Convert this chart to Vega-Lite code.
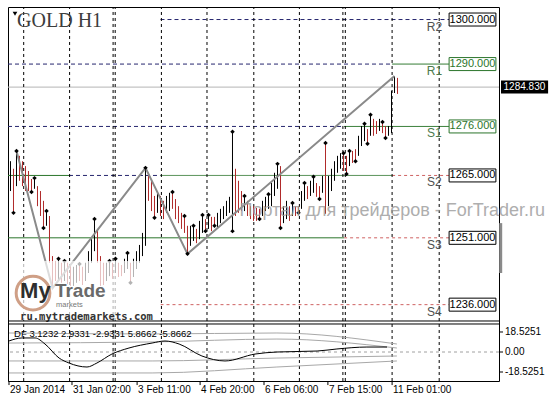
{
"$schema": "https://vega.github.io/schema/vega-lite/v6.json",
"padding": {"left": 6, "top": 6, "right": 4, "bottom": 20},
"background": "#ffffff",
"width": 491, "height": 374,
"config": {
 "view": {"stroke": "#000000", "strokeWidth": 1},
 "axis": {"labelFont": "Liberation Sans", "labelFontSize": 10, "labelColor": "#000000", "tickColor": "#000000", "grid": false},
 "text": {"font": "Liberation Sans"}
},
"datasets": {
 "bars": [
  {"n":0,"h":1268.2,"l":1261.5,"d":"u"},
  {"n":1,"h":1266.5,"l":1256.6,"d":"d","f":"l"},
  {"n":2,"h":1270.5,"l":1262.6,"d":"u","f":"h"},
  {"n":3,"h":1269.4,"l":1263.8,"d":"d"},
  {"n":4,"h":1268.2,"l":1262.6,"d":"d"},
  {"n":5,"h":1267.1,"l":1261.5,"d":"d"},
  {"n":6,"h":1266.0,"l":1261.5,"d":"d"},
  {"n":7,"h":1264.2,"l":1261.3,"d":"d","f":"l"},
  {"n":8,"h":1264.4,"l":1262.0,"d":"u","f":"h"},
  {"n":9,"h":1262.6,"l":1258.1,"d":"d"},
  {"n":10,"h":1261.5,"l":1255.9,"d":"d"},
  {"n":11,"h":1259.3,"l":1253.2,"d":"d","f":"l"},
  {"n":12,"h":1257.0,"l":1253.7,"d":"u","f":"h"},
  {"n":13,"h":1255.9,"l":1245.4,"d":"d"},
  {"n":14,"h":1246.9,"l":1239.7,"d":"d"},
  {"n":15,"h":1245.8,"l":1241.3,"d":"d"},
  {"n":16,"h":1246.3,"l":1241.3,"d":"u","f":"h"},
  {"n":17,"h":1245.4,"l":1240.9,"d":"d"},
  {"n":18,"h":1245.8,"l":1241.3,"d":"u","f":"h"},
  {"n":19,"h":1245.4,"l":1240.6,"d":"d"},
  {"n":20,"h":1244.7,"l":1240.2,"d":"d"},
  {"n":21,"h":1244.5,"l":1240.2,"d":"u"},
  {"n":22,"h":1244.9,"l":1240.9,"d":"u"},
  {"n":23,"h":1245.1,"l":1241.3,"d":"d","f":"h"},
  {"n":24,"h":1244.5,"l":1240.4,"d":"d"},
  {"n":25,"h":1245.4,"l":1241.3,"d":"u"},
  {"n":26,"h":1248.0,"l":1243.1,"d":"u"},
  {"n":27,"h":1250.7,"l":1245.4,"d":"u"},
  {"n":28,"h":1255.2,"l":1248.0,"d":"u","f":"h"},
  {"n":29,"h":1253.0,"l":1245.4,"d":"d"},
  {"n":30,"h":1246.9,"l":1240.2,"d":"d"},
  {"n":31,"h":1245.4,"l":1240.4,"d":"d"},
  {"n":32,"h":1245.4,"l":1241.3,"d":"u"},
  {"n":33,"h":1245.8,"l":1242.4,"d":"u","f":"h"},
  {"n":34,"h":1245.4,"l":1241.8,"d":"d"},
  {"n":35,"h":1246.3,"l":1243.1,"d":"u","f":"h"},
  {"n":36,"h":1245.4,"l":1242.2,"d":"d"},
  {"n":37,"h":1244.9,"l":1242.4,"d":"d"},
  {"n":38,"h":1246.3,"l":1243.1,"d":"u"},
  {"n":39,"h":1247.6,"l":1244.0,"d":"u","f":"h"},
  {"n":40,"h":1245.4,"l":1240.9,"d":"d","f":"l"},
  {"n":41,"h":1246.3,"l":1242.2,"d":"u"},
  {"n":42,"h":1248.0,"l":1244.0,"d":"u"},
  {"n":43,"h":1249.4,"l":1245.4,"d":"u"},
  {"n":44,"h":1252.1,"l":1246.9,"d":"u"},
  {"n":45,"h":1266.7,"l":1249.2,"d":"u","f":"h"},
  {"n":46,"h":1265.6,"l":1259.3,"d":"d"},
  {"n":47,"h":1263.8,"l":1257.0,"d":"d"},
  {"n":48,"h":1260.4,"l":1255.5,"d":"d","f":"l"},
  {"n":49,"h":1261.5,"l":1256.6,"d":"u"},
  {"n":50,"h":1260.4,"l":1255.9,"d":"d"},
  {"n":51,"h":1259.3,"l":1255.2,"d":"d"},
  {"n":52,"h":1260.4,"l":1256.6,"d":"u"},
  {"n":53,"h":1261.1,"l":1257.0,"d":"u"},
  {"n":54,"h":1261.3,"l":1257.5,"d":"d","f":"h"},
  {"n":55,"h":1259.7,"l":1255.2,"d":"d"},
  {"n":56,"h":1258.1,"l":1254.3,"d":"d"},
  {"n":57,"h":1256.6,"l":1253.0,"d":"d"},
  {"n":58,"h":1255.9,"l":1252.1,"d":"d","f":"h"},
  {"n":59,"h":1253.7,"l":1247.4,"d":"d","f":"l"},
  {"n":60,"h":1253.7,"l":1249.2,"d":"u"},
  {"n":61,"h":1253.7,"l":1250.3,"d":"u","f":"h"},
  {"n":62,"h":1253.0,"l":1249.8,"d":"d"},
  {"n":63,"h":1254.8,"l":1250.7,"d":"u"},
  {"n":64,"h":1256.1,"l":1252.1,"d":"u","f":"h"},
  {"n":65,"h":1255.2,"l":1252.5,"d":"d","f":"l"},
  {"n":66,"h":1256.1,"l":1253.0,"d":"u","f":"h"},
  {"n":67,"h":1255.7,"l":1252.5,"d":"d"},
  {"n":68,"h":1255.7,"l":1253.7,"d":"d","f":"l"},
  {"n":69,"h":1256.6,"l":1253.4,"d":"u"},
  {"n":70,"h":1257.5,"l":1254.3,"d":"u"},
  {"n":71,"h":1258.1,"l":1255.2,"d":"u"},
  {"n":72,"h":1259.3,"l":1255.9,"d":"u"},
  {"n":73,"h":1260.2,"l":1256.6,"d":"u"},
  {"n":74,"h":1274.8,"l":1252.5,"d":"u","f":"hl"},
  {"n":75,"h":1266.5,"l":1255.9,"d":"d"},
  {"n":76,"h":1263.8,"l":1256.6,"d":"d"},
  {"n":77,"h":1261.5,"l":1257.0,"d":"d"},
  {"n":78,"h":1260.4,"l":1257.0,"d":"u","f":"h"},
  {"n":79,"h":1259.3,"l":1255.9,"d":"d"},
  {"n":80,"h":1258.1,"l":1255.2,"d":"d"},
  {"n":81,"h":1258.1,"l":1254.8,"d":"d"},
  {"n":82,"h":1257.7,"l":1254.8,"d":"d"},
  {"n":83,"h":1257.5,"l":1255.2,"d":"d","f":"l"},
  {"n":84,"h":1259.3,"l":1255.9,"d":"u"},
  {"n":85,"h":1260.2,"l":1257.0,"d":"u"},
  {"n":86,"h":1260.8,"l":1257.5,"d":"u","f":"h"},
  {"n":87,"h":1263.3,"l":1258.1,"d":"u"},
  {"n":88,"h":1265.6,"l":1260.4,"d":"u"},
  {"n":89,"h":1267.6,"l":1262.0,"d":"u","f":"h"},
  {"n":90,"h":1267.1,"l":1253.2,"d":"d","f":"l"},
  {"n":91,"h":1258.1,"l":1254.3,"d":"u"},
  {"n":92,"h":1259.3,"l":1255.2,"d":"u"},
  {"n":93,"h":1258.1,"l":1254.8,"d":"d"},
  {"n":94,"h":1258.8,"l":1255.9,"d":"u","f":"h"},
  {"n":95,"h":1258.1,"l":1255.9,"d":"d"},
  {"n":96,"h":1258.1,"l":1256.6,"d":"d","f":"l"},
  {"n":97,"h":1261.5,"l":1257.5,"d":"u"},
  {"n":98,"h":1263.3,"l":1259.3,"d":"u","f":"h"},
  {"n":99,"h":1262.6,"l":1259.7,"d":"d"},
  {"n":100,"h":1263.8,"l":1260.4,"d":"u"},
  {"n":101,"h":1264.7,"l":1261.1,"d":"u","f":"h"},
  {"n":102,"h":1263.3,"l":1260.2,"d":"d"},
  {"n":103,"h":1262.6,"l":1259.7,"d":"d","f":"l"},
  {"n":104,"h":1264.9,"l":1261.1,"d":"u"},
  {"n":105,"h":1272.3,"l":1256.4,"d":"d","f":"h"},
  {"n":106,"h":1264.9,"l":1258.1,"d":"u"},
  {"n":107,"h":1266.5,"l":1261.5,"d":"u"},
  {"n":108,"h":1268.2,"l":1263.8,"d":"u"},
  {"n":109,"h":1269.4,"l":1265.6,"d":"u"},
  {"n":110,"h":1270.0,"l":1266.5,"d":"u"},
  {"n":111,"h":1270.0,"l":1266.0,"d":"d","f":"h"},
  {"n":112,"h":1269.4,"l":1265.3,"d":"d","f":"l"},
  {"n":113,"h":1270.5,"l":1267.1,"d":"u","f":"h"},
  {"n":114,"h":1270.5,"l":1267.8,"d":"d"},
  {"n":115,"h":1270.9,"l":1268.2,"d":"d","f":"l"},
  {"n":116,"h":1273.9,"l":1269.4,"d":"u"},
  {"n":117,"h":1276.1,"l":1271.6,"d":"u"},
  {"n":118,"h":1276.6,"l":1272.7,"d":"u","f":"h"},
  {"n":119,"h":1275.4,"l":1272.1,"d":"d","f":"l"},
  {"n":120,"h":1278.6,"l":1273.9,"d":"u","f":"h"},
  {"n":121,"h":1277.7,"l":1273.9,"d":"d"},
  {"n":122,"h":1277.2,"l":1274.3,"d":"d"},
  {"n":123,"h":1277.7,"l":1275.0,"d":"u"},
  {"n":124,"h":1277.0,"l":1274.5,"d":"d","f":"h"},
  {"n":125,"h":1276.1,"l":1273.4,"d":"d","f":"l"},
  {"n":126,"h":1276.1,"l":1273.9,"d":"u"},
  {"n":127,"h":1284.0,"l":1274.5,"d":"u"},
  {"n":128,"h":1287.3,"l":1283.5,"d":"u"},
  {"n":129,"h":1286.9,"l":1283.3,"d":"d"}
 ],
 "zz": [
  {"n":2,"p":1270.5},{"n":14,"p":1239.7},{"n":45,"p":1266.7},{"n":59,"p":1247.4},{"n":128,"p":1287.3}
 ],
 "segs": [
  {"p":1300,"a":50,"b":146.2,"s":"dash"},
  {"p":1290,"a":-0.83,"b":127.2,"s":"dash"},
  {"p":1290,"a":127.2,"b":146.2,"s":"green"},
  {"p":1276,"a":-0.83,"b":111.2,"s":"dash"},
  {"p":1276,"a":111.2,"b":146.2,"s":"green"},
  {"p":1265,"a":-0.83,"b":19.5,"s":"green"},
  {"p":1265,"a":19.5,"b":50,"s":"dash"},
  {"p":1265,"a":50,"b":127.2,"s":"green"},
  {"p":1265,"a":127.2,"b":146.2,"s":"red"},
  {"p":1251,"a":-0.83,"b":111.2,"s":"green"},
  {"p":1251,"a":111.2,"b":146.2,"s":"red"},
  {"p":1236,"a":50,"b":146.2,"s":"red"}
 ],
 "levels": [
  {"k":"R2","p":1300,"v":"1300.000","c":"k"},
  {"k":"R1","p":1290,"v":"1290.000","c":"g"},
  {"k":"S1","p":1276,"v":"1276.000","c":"g"},
  {"k":"S2","p":1265,"v":"1265.000","c":"k"},
  {"k":"S3","p":1251,"v":"1251.000","c":"k"},
  {"k":"S4","p":1236,"v":"1236.000","c":"k"}
 ],
 "seps": [
  {"n":4.4},{"n":19.7},{"n":34.2},{"n":34.9},{"n":50.3},{"n":65.5},{"n":81.1},{"n":96.3},{"n":110.8},{"n":111.6},{"n":127.2},{"n":142.9}
 ],
 "xlab": [
  {"n":-0.5,"t":"29 Jan 2014"},{"n":20.5,"t":"31 Jan 02:00"},{"n":42.2,"t":"3 Feb 11:00"},{"n":63.2,"t":"4 Feb 20:00"},{"n":84.5,"t":"6 Feb 06:00"},{"n":105.8,"t":"7 Feb 15:00"},{"n":127.2,"t":"11 Feb 01:00"}
 ],
 "ylab": [
  {"v":18.5251,"t":"18.5251"},{"v":0,"t":"0.00"},{"v":-18.5251,"t":"-18.5251"}
 ],
 "osc": [
  {"n":-0.5,"v":10.2},{"n":3.8,"v":13.0},{"n":8.2,"v":13.0},{"n":11.5,"v":7.4},{"n":16.2,"v":-5.6},{"n":19.5,"v":-10.2},{"n":25.5,"v":-13.9},{"n":28.8,"v":-10.2},{"n":33.8,"v":-1.9},{"n":39.5,"v":3.7},{"n":47.2,"v":8.3},{"n":51.5,"v":10.2},{"n":56.2,"v":7.4},{"n":63.8,"v":-3.7},{"n":71.5,"v":-8.3},{"n":81.5,"v":-1.9},{"n":88.8,"v":0},{"n":102.2,"v":0.9},{"n":108.8,"v":2.8},{"n":118.8,"v":4.6},{"n":125.5,"v":4.6}
 ],
 "bands": [
  {"g":"a","n":-0.5,"v":17.6},{"g":"a","n":47.2,"v":16.7},{"g":"a","n":88.8,"v":17.6},{"g":"a","n":128.8,"v":7.4},
  {"g":"b","n":-0.5,"v":8.3},{"g":"b","n":47.2,"v":9.3},{"g":"b","n":88.8,"v":12.0},{"g":"b","n":128.8,"v":3.7},
  {"g":"c","n":-0.5,"v":-8.3},{"g":"c","n":47.2,"v":-8.3},{"g":"c","n":88.8,"v":-5.6},{"g":"c","n":128.8,"v":-3.7},
  {"g":"d","n":-0.5,"v":-19.4},{"g":"d","n":47.2,"v":-19.4},{"g":"d","n":88.8,"v":-13.9},{"g":"d","n":128.8,"v":-8.3}
 ]
},
"resolve": {"scale": {"y": "independent", "color": "independent", "strokeDash": "independent", "stroke": "independent"}, "axis": {"y": "independent"}},
"layer": [
 {
  "resolve": {"scale": {"color": "independent", "strokeDash": "independent", "stroke": "independent"}},
  "layer": [
   {"data": {"name": "segs"}, "mark": {"type": "rule", "strokeWidth": 1},
    "encoding": {
     "x": {"field": "a", "type": "quantitative", "scale": {"domain": [-0.833, 162.833], "nice": false, "zero": false}, "axis": null},
     "x2": {"field": "b"},
     "y": {"field": "p", "type": "quantitative", "scale": {"domain": [1218.86, 1302.81], "nice": false, "zero": false}, "axis": null},
     "color": {"field": "s", "type": "nominal", "scale": {"domain": ["dash", "green", "red"], "range": ["#26266e", "#2b752b", "#cf6262"]}, "legend": null},
     "strokeDash": {"field": "s", "type": "nominal", "scale": {"domain": ["dash", "green", "red"], "range": [[4, 3], [1, 0], [3, 3]]}, "legend": null}
    }},
   {"data": {"values": [{}]}, "mark": {"type": "rule", "color": "#b4b4b4", "strokeWidth": 1},
    "encoding": {"y": {"datum": 1284.83, "type": "quantitative", "axis": null}}},
   {"data": {"name": "seps"}, "mark": {"type": "rule", "color": "#000000", "strokeWidth": 1, "strokeDash": [3, 3]},
    "encoding": {"x": {"field": "n", "type": "quantitative", "axis": null}, "y": {"datum": 1232.33, "type": "quantitative", "axis": null}, "y2": {"datum": 1302.81}}},
   {"data": {"name": "bars"}, "mark": {"type": "rule", "strokeWidth": 1},
    "encoding": {
     "x": {"field": "n", "type": "quantitative", "axis": null},
     "y": {"field": "l", "type": "quantitative",
       "axis": {"orient": "right", "values": [1299.446, 1291.966, 1277.226, 1269.746, 1262.266, 1255.006, 1247.526, 1240.046, 1232.786], "format": ".3f", "tickSize": 4, "labelPadding": 2, "domain": false, "grid": false, "title": null, "labelFlush": false, "labelOverlap": false}},
     "y2": {"field": "h"},
     "color": {"field": "d", "type": "nominal", "scale": {"domain": ["u", "d"], "range": ["#000000", "#b02a2a"]}, "legend": null}
    }},
   {"data": {"name": "zz"}, "mark": {"type": "line", "color": "#8a8a8a", "strokeWidth": 2},
    "encoding": {"x": {"field": "n", "type": "quantitative", "axis": null}, "y": {"field": "p", "type": "quantitative", "axis": null}}},
   {"data": {"name": "bars"}, "transform": [{"filter": "indexof(datum.f || '', 'h') >= 0"}],
    "mark": {"type": "point", "shape": "diamond", "filled": true, "color": "#000000", "size": 20, "opacity": 1},
    "encoding": {"x": {"field": "n", "type": "quantitative", "axis": null}, "y": {"field": "h", "type": "quantitative", "axis": null}}},
   {"data": {"name": "bars"}, "transform": [{"filter": "indexof(datum.f || '', 'l') >= 0"}],
    "mark": {"type": "point", "shape": "diamond", "filled": true, "color": "#000000", "size": 20, "opacity": 1},
    "encoding": {"x": {"field": "n", "type": "quantitative", "axis": null}, "y": {"field": "l", "type": "quantitative", "axis": null}}},
   {"data": {"values": [{"t": "Портал для трейдеров - ForTrader.ru"}]},
    "mark": {"type": "text", "align": "right", "baseline": "middle", "font": "Liberation Sans", "fontSize": 18, "color": "#9a9a9a", "opacity": 0.8},
    "encoding": {"x": {"datum": 178.2, "type": "quantitative", "axis": null}, "y": {"datum": 1257.0, "type": "quantitative", "axis": null}, "text": {"field": "t"}}},
   {"data": {"values": [{}]}, "mark": {"type": "rect", "color": "#ffffff", "opacity": 0.7},
    "encoding": {"x": {"datum": 0.3, "type": "quantitative", "axis": null}, "x2": {"datum": 50}, "y": {"datum": 1245.8, "type": "quantitative", "axis": null}, "y2": {"datum": 1232.5}}},
   {"data": {"values": [{}]}, "mark": {"type": "point", "shape": "circle", "filled": false, "stroke": "#cf9f86", "strokeWidth": 3, "size": 1134, "opacity": 1},
    "encoding": {"x": {"datum": 7.5, "type": "quantitative", "axis": null}, "y": {"datum": 1238.6, "type": "quantitative", "axis": null}}},
   {"data": {"values": [{"t": "My"}]}, "mark": {"type": "text", "align": "left", "baseline": "middle", "fontSize": 22, "fontWeight": "bold", "color": "#2e2e2e"},
    "encoding": {"x": {"datum": 3.2, "type": "quantitative", "axis": null}, "y": {"datum": 1239.1, "type": "quantitative", "axis": null}, "text": {"field": "t"}}},
   {"data": {"values": [{"t": "Trade"}]}, "mark": {"type": "text", "align": "left", "baseline": "middle", "fontSize": 19, "fontWeight": "bold", "color": "#6a6a6a"},
    "encoding": {"x": {"datum": 14.8, "type": "quantitative", "axis": null}, "y": {"datum": 1239.1, "type": "quantitative", "axis": null}, "text": {"field": "t"}}},
   {"data": {"values": [{"t": "markets"}]}, "mark": {"type": "text", "align": "left", "baseline": "middle", "fontSize": 7.5, "color": "#777777"},
    "encoding": {"x": {"datum": 15.2, "type": "quantitative", "axis": null}, "y": {"datum": 1235.9, "type": "quantitative", "axis": null}, "text": {"field": "t"}}},
   {"data": {"values": [{"t": "ru.mytrademarkets.com"}]}, "mark": {"type": "text", "align": "left", "baseline": "middle", "font": "DejaVu Sans Mono", "fontSize": 10.5, "fontWeight": "bold", "color": "#333333"},
    "encoding": {"x": {"datum": 3.2, "type": "quantitative", "axis": null}, "y": {"datum": 1233.2, "type": "quantitative", "axis": null}, "text": {"field": "t"}}},
   {"data": {"values": [{"t": "GOLD H1"}]}, "mark": {"type": "text", "align": "left", "baseline": "middle", "font": "Liberation Serif", "fontSize": 20, "color": "#3c3c3c"},
    "encoding": {"x": {"datum": 2.2, "type": "quantitative", "axis": null}, "y": {"datum": 1299.6, "type": "quantitative", "axis": null}, "text": {"field": "t"}}},
   {"data": {"values": [{}]}, "mark": {"type": "point", "shape": "triangle-down", "filled": true, "color": "#000000", "size": 22, "opacity": 1},
    "encoding": {"x": {"datum": 1.5, "type": "quantitative", "axis": null}, "y": {"datum": 1301.3, "type": "quantitative", "axis": null}}},
   {"data": {"name": "levels"}, "mark": {"type": "text", "align": "center", "baseline": "middle", "fontSize": 12, "yOffset": 7},
    "encoding": {"x": {"datum": 141.3, "type": "quantitative", "axis": null}, "y": {"field": "p", "type": "quantitative", "axis": null}, "text": {"field": "k"},
     "color": {"field": "c", "type": "nominal", "scale": {"domain": ["k", "g"], "range": ["#505050", "#4d7a4d"]}, "legend": null}}},
   {"data": {"name": "levels"}, "mark": {"type": "rect", "fill": "#ffffff", "strokeWidth": 1, "yOffset": -6.5, "y2Offset": 6.5},
    "encoding": {"x": {"datum": 146.2, "type": "quantitative", "axis": null}, "x2": {"datum": 161.8}, "y": {"field": "p", "type": "quantitative", "axis": null}, "y2": {"field": "p"},
     "stroke": {"field": "c", "type": "nominal", "scale": {"domain": ["k", "g"], "range": ["#000000", "#2b752b"]}, "legend": null}}},
   {"data": {"name": "levels"}, "mark": {"type": "text", "align": "center", "baseline": "middle", "fontSize": 11},
    "encoding": {"x": {"datum": 154.0, "type": "quantitative", "axis": null}, "y": {"field": "p", "type": "quantitative", "axis": null}, "text": {"field": "v"},
     "color": {"field": "c", "type": "nominal", "scale": {"domain": ["k", "g"], "range": ["#000000", "#2b752b"]}, "legend": null}}},
   {"data": {"values": [{}]}, "mark": {"type": "rect", "color": "#000000", "yOffset": -6.5, "y2Offset": 6.5},
    "encoding": {"x": {"datum": 163.5, "type": "quantitative", "axis": null}, "x2": {"datum": 179.2}, "y": {"datum": 1284.83, "type": "quantitative", "axis": null}, "y2": {"datum": 1284.83}}},
   {"data": {"values": [{"t": "1284.830"}]}, "mark": {"type": "text", "align": "center", "baseline": "middle", "fontSize": 10, "color": "#ffffff"},
    "encoding": {"x": {"datum": 171.3, "type": "quantitative", "axis": null}, "y": {"datum": 1284.83, "type": "quantitative", "axis": null}, "text": {"field": "t"}}},
   {"data": {"values": [{}]}, "mark": {"type": "rect", "color": "#8a8a8a"},
    "encoding": {"x": {"datum": 162.9, "type": "quantitative", "axis": null}, "x2": {"datum": 163.9}, "y": {"datum": 1254.3, "type": "quantitative", "axis": null}, "y2": {"datum": 1243.1}}},
   {"data": {"values": [{}]}, "mark": {"type": "rule", "color": "#000000", "strokeWidth": 1},
    "encoding": {"y": {"datum": 1232.33, "type": "quantitative", "axis": null}}}
  ]
 },
 {
  "layer": [
   {"data": {"name": "seps"}, "mark": {"type": "rule", "color": "#000000", "strokeWidth": 1, "strokeDash": [3, 3]},
    "encoding": {"x": {"field": "n", "type": "quantitative", "axis": null},
     "y": {"datum": -26.85, "type": "quantitative", "scale": {"domain": [-26.85, 319.45], "nice": false, "zero": false}, "axis": null},
     "y2": {"datum": 25.93}}},
   {"data": {"name": "xlab"}, "mark": {"type": "rule", "color": "#000000", "strokeWidth": 1},
    "encoding": {"x": {"field": "n", "type": "quantitative", "axis": null}, "y": {"datum": -26.85, "type": "quantitative", "axis": null}, "y2": {"datum": -30.6}}},
   {"data": {"name": "xlab"}, "mark": {"type": "text", "align": "left", "baseline": "middle", "fontSize": 10, "color": "#000000", "dx": 1},
    "encoding": {"x": {"field": "n", "type": "quantitative", "axis": null}, "y": {"datum": -34.8, "type": "quantitative", "axis": null}, "text": {"field": "t"}}},
   {"data": {"name": "ylab"}, "mark": {"type": "rule", "color": "#000000", "strokeWidth": 1},
    "encoding": {"x": {"datum": 162.833, "type": "quantitative", "axis": null}, "x2": {"datum": 164.17}, "y": {"field": "v", "type": "quantitative", "axis": null}}},
   {"data": {"name": "ylab"}, "mark": {"type": "text", "align": "left", "baseline": "middle", "fontSize": 10, "color": "#000000"},
    "encoding": {"x": {"datum": 164.83, "type": "quantitative", "axis": null}, "y": {"field": "v", "type": "quantitative", "axis": null}, "text": {"field": "t"}}},
   {"data": {"values": [{}]}, "mark": {"type": "rule", "color": "#a0a0a0", "strokeWidth": 1, "strokeDash": [3, 3]},
    "encoding": {"y": {"datum": 0, "type": "quantitative", "axis": null}}},
   {"data": {"values": [{}]}, "mark": {"type": "rule", "color": "#000000", "strokeWidth": 1},
    "encoding": {"y": {"datum": 25.93, "type": "quantitative", "axis": null}}},
   {"data": {"name": "bands"}, "mark": {"type": "line", "color": "#a8a8a8", "strokeWidth": 1, "interpolate": "monotone"},
    "encoding": {"x": {"field": "n", "type": "quantitative", "axis": null},
     "y": {"field": "v", "type": "quantitative", "axis": null},
     "detail": {"field": "g"}}},
   {"data": {"name": "osc"}, "mark": {"type": "line", "color": "#000000", "strokeWidth": 1, "interpolate": "monotone"},
    "encoding": {"x": {"field": "n", "type": "quantitative", "axis": null}, "y": {"field": "v", "type": "quantitative", "axis": null}}},
   {"data": {"values": [{"t": "DF 3.1232 2.9331 -2.9331 5.8662 -5.8662"}]}, "mark": {"type": "text", "align": "left", "baseline": "middle", "fontSize": 9.5, "color": "#000000"},
    "encoding": {"x": {"datum": 1.2, "type": "quantitative", "axis": null}, "y": {"datum": 16.7, "type": "quantitative", "axis": null}, "text": {"field": "t"}}}
  ]
 }
]
}
